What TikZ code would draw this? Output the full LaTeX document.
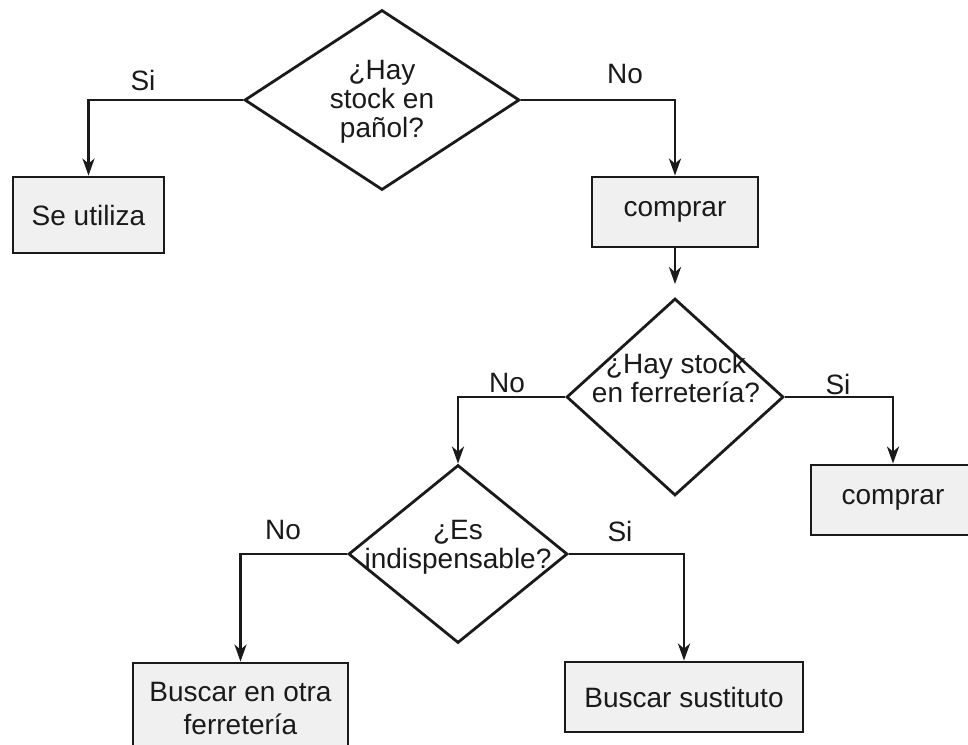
\documentclass[tikz,border=0pt]{standalone}
\usepackage{fontspec}
\setmainfont{Liberation Sans}
\usetikzlibrary{shapes.geometric,arrows.meta}
\definecolor{boxfill}{HTML}{F0F0F0}
\definecolor{ink}{HTML}{1A1A1A}
\tikzset{
  flow/.style={line width=2.8pt, draw=ink},
  decision/.style={flow, diamond, inner sep=0pt},
  actionbox/.style={flow, rectangle, fill=boxfill, inner sep=0pt, align=center,
    text=ink, font=\fontsize{28}{33}\selectfont},
  qtext/.style={align=center, text=ink, inner sep=0pt, font=\fontsize{28}{29}\selectfont},
  branch/.style={text=ink, inner sep=0pt, font=\fontsize{28}{30}\selectfont},
  link/.style={flow, -{Stealth[length=17pt,width=12pt,inset=5pt]}},
}
\begin{document}
\begin{tikzpicture}[x=1pt,y=-1pt]
\useasboundingbox (0,0) rectangle (968,744);
\clip (0,0) rectangle (968,744);

% decisions
\node[decision, minimum width=275pt, minimum height=180pt] (d1) at (382,100) {};
\node[qtext] (d1t) at (382,102) {¿Hay\\stock en\\pañol?};
\node[decision, minimum width=217pt, minimum height=197pt] (d2) at (675,397) {};
\node[qtext] (d2t) at (676,378) {¿Hay stock\\en ferretería?};
\node[decision, minimum width=219pt, minimum height=178pt] (d3) at (458,554) {};
\node[qtext] (d3t) at (458,547) {¿Es\\indispensable?};

% actions
\node[actionbox, minimum width=151pt, minimum height=76pt] (b1) at (88.5,215) {Se utiliza};
\node[actionbox, minimum width=166pt, minimum height=70pt] (b2) at (675,212) {comprar};
\node[actionbox, minimum width=164pt, minimum height=70pt] (b3) at (893,500) {comprar};
\node[actionbox, minimum width=215pt, minimum height=90pt] (b4) at (240.5,708) {Buscar en otra\\ferretería};
\node[actionbox, minimum width=238pt, minimum height=70pt] (b5) at (684,697) {Buscar sustituto};

% connectors
\draw[link] (d1.west) -| (b1.north);
\draw[link] (d1.east) -| (b2.north);
\draw[link, shorten >=13pt] (b2.south) -- (d2.north);
\draw[link] (d2.west) -| (d3.north);
\draw[link] (d2.east) -| (b3.north);
\draw[link] (d3.west) -| (b4.north);
\draw[link] (d3.east) -| (b5.north);

% branch labels
\node[branch] (l1) at (143,80) {Si};
\node[branch] (l2) at (625,74) {No};
\node[branch] (l3) at (507,383) {No};
\node[branch] (l4) at (838,384) {Si};
\node[branch] (l5) at (283,530) {No};
\node[branch] (l6) at (620,531) {Si};
\end{tikzpicture}
\end{document}
